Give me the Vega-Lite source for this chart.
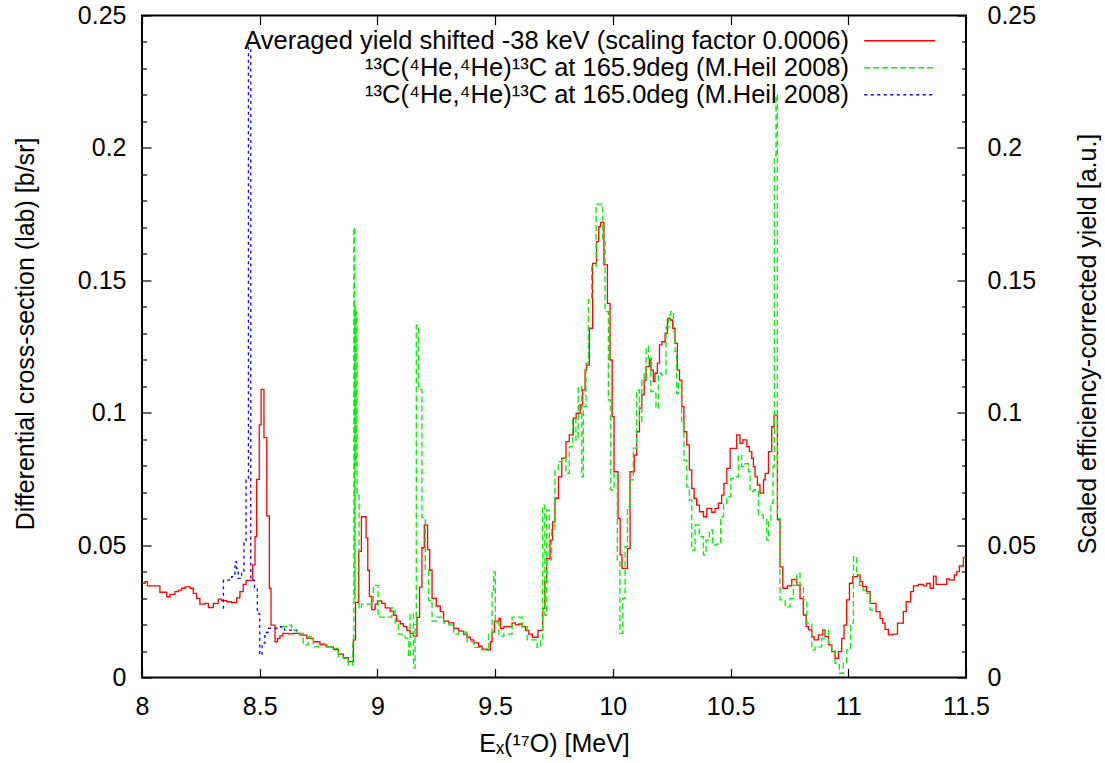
{
  "$schema": "https://vega.github.io/schema/vega-lite/v6.json",
  "width": 824,
  "height": 662,
  "autosize": {"type": "none"},
  "padding": {"left": 142, "top": 15.5, "right": 139, "bottom": 85.5},
  "background": "white",
  "config": {
    "font": "Liberation Sans",
    "view": {"stroke": "#000", "strokeWidth": 2},
    "axis": {"domain": false, "grid": false, "labelFont": "Liberation Sans", "labelFontSize": 25, "labelColor": "#000", "titleFont": "Liberation Sans", "titleFontSize": 25, "titleFontWeight": "normal", "titleColor": "#000", "tickColor": "#000", "tickWidth": 1.2, "labelOverlap": false, "labelFlush": false, "labelBound": false},
    "legend": {"labelFont": "Liberation Sans", "labelFontSize": 25.5, "labelColor": "#000", "labelLimit": 0}
  },
  "data": {"values": [
    {"s":"a","x":8.000,"y":0.0356},{"s":"a","x":8.013,"y":0.0362},{"s":"a","x":8.023,"y":0.0346},{"s":"a","x":8.076,"y":0.0322},
    {"s":"a","x":8.105,"y":0.0305},{"s":"a","x":8.119,"y":0.0314},{"s":"a","x":8.140,"y":0.0324},{"s":"a","x":8.154,"y":0.0330},
    {"s":"a","x":8.168,"y":0.0337},{"s":"a","x":8.183,"y":0.0342},{"s":"a","x":8.204,"y":0.0337},{"s":"a","x":8.218,"y":0.0318},
    {"s":"a","x":8.232,"y":0.0299},{"s":"a","x":8.246,"y":0.0277},{"s":"a","x":8.268,"y":0.0280},{"s":"a","x":8.282,"y":0.0264},
    {"s":"a","x":8.303,"y":0.0280},{"s":"a","x":8.324,"y":0.0296},{"s":"a","x":8.338,"y":0.0290},{"s":"a","x":8.360,"y":0.0286},
    {"s":"a","x":8.381,"y":0.0283},{"s":"a","x":8.402,"y":0.0301},{"s":"a","x":8.416,"y":0.0324},{"s":"a","x":8.430,"y":0.0352},
    {"s":"a","x":8.442,"y":0.0367},{"s":"a","x":8.470,"y":0.0425},{"s":"a","x":8.480,"y":0.0532},{"s":"a","x":8.487,"y":0.0748},
    {"s":"a","x":8.498,"y":0.0954},{"s":"a","x":8.506,"y":0.1088},{"s":"a","x":8.518,"y":0.0906},{"s":"a","x":8.530,"y":0.0610},
    {"s":"a","x":8.541,"y":0.0337},{"s":"a","x":8.548,"y":0.0198},{"s":"a","x":8.565,"y":0.0135},{"s":"a","x":8.576,"y":0.0148},
    {"s":"a","x":8.586,"y":0.0157},{"s":"a","x":8.598,"y":0.0167},{"s":"a","x":8.622,"y":0.0165},{"s":"a","x":8.643,"y":0.0167},
    {"s":"a","x":8.671,"y":0.0160},{"s":"a","x":8.700,"y":0.0148},{"s":"a","x":8.728,"y":0.0135},{"s":"a","x":8.756,"y":0.0123},
    {"s":"a","x":8.785,"y":0.0116},{"s":"a","x":8.813,"y":0.0105},{"s":"a","x":8.834,"y":0.0088},{"s":"a","x":8.855,"y":0.0075},
    {"s":"a","x":8.876,"y":0.0060},{"s":"a","x":8.898,"y":0.0142},{"s":"a","x":8.907,"y":0.0284},{"s":"a","x":8.920,"y":0.0476},
    {"s":"a","x":8.932,"y":0.0607},{"s":"a","x":8.952,"y":0.0526},{"s":"a","x":8.959,"y":0.0405},{"s":"a","x":8.966,"y":0.0306},
    {"s":"a","x":8.976,"y":0.0256},{"s":"a","x":8.990,"y":0.0277},{"s":"a","x":9.000,"y":0.0289},{"s":"a","x":9.018,"y":0.0280},
    {"s":"a","x":9.033,"y":0.0263},{"s":"a","x":9.054,"y":0.0250},{"s":"a","x":9.068,"y":0.0235},{"s":"a","x":9.082,"y":0.0213},
    {"s":"a","x":9.097,"y":0.0203},{"s":"a","x":9.111,"y":0.0192},{"s":"a","x":9.125,"y":0.0178},{"s":"a","x":9.139,"y":0.0167},
    {"s":"a","x":9.153,"y":0.0156},{"s":"a","x":9.168,"y":0.0227},{"s":"a","x":9.179,"y":0.0341},{"s":"a","x":9.189,"y":0.0490},
    {"s":"a","x":9.199,"y":0.0576},{"s":"a","x":9.213,"y":0.0483},{"s":"a","x":9.222,"y":0.0405},{"s":"a","x":9.232,"y":0.0299},
    {"s":"a","x":9.250,"y":0.0270},{"s":"a","x":9.267,"y":0.0249},{"s":"a","x":9.281,"y":0.0213},{"s":"a","x":9.303,"y":0.0206},
    {"s":"a","x":9.324,"y":0.0185},{"s":"a","x":9.345,"y":0.0175},{"s":"a","x":9.366,"y":0.0164},{"s":"a","x":9.380,"y":0.0152},
    {"s":"a","x":9.395,"y":0.0142},{"s":"a","x":9.409,"y":0.0131},{"s":"a","x":9.430,"y":0.0118},{"s":"a","x":9.445,"y":0.0107},
    {"s":"a","x":9.466,"y":0.0104},{"s":"a","x":9.480,"y":0.0135},{"s":"a","x":9.487,"y":0.0171},{"s":"a","x":9.497,"y":0.0213},
    {"s":"a","x":9.516,"y":0.0223},{"s":"a","x":9.523,"y":0.0185},{"s":"a","x":9.537,"y":0.0192},{"s":"a","x":9.572,"y":0.0206},
    {"s":"a","x":9.586,"y":0.0199},{"s":"a","x":9.600,"y":0.0202},{"s":"a","x":9.615,"y":0.0192},{"s":"a","x":9.629,"y":0.0178},
    {"s":"a","x":9.643,"y":0.0164},{"s":"a","x":9.658,"y":0.0152},{"s":"a","x":9.682,"y":0.0178},{"s":"a","x":9.702,"y":0.0261},
    {"s":"a","x":9.711,"y":0.0362},{"s":"a","x":9.719,"y":0.0450},{"s":"a","x":9.733,"y":0.0519},{"s":"a","x":9.744,"y":0.0588},
    {"s":"a","x":9.754,"y":0.0677},{"s":"a","x":9.769,"y":0.0758},{"s":"a","x":9.783,"y":0.0828},{"s":"a","x":9.801,"y":0.0891},
    {"s":"a","x":9.815,"y":0.0916},{"s":"a","x":9.832,"y":0.0979},{"s":"a","x":9.844,"y":0.0998},{"s":"a","x":9.861,"y":0.1029},
    {"s":"a","x":9.872,"y":0.1086},{"s":"a","x":9.882,"y":0.1161},{"s":"a","x":9.889,"y":0.1180},{"s":"a","x":9.900,"y":0.1319},
    {"s":"a","x":9.914,"y":0.1564},{"s":"a","x":9.931,"y":0.1646},{"s":"a","x":9.940,"y":0.1703},{"s":"a","x":9.948,"y":0.1719},
    {"s":"a","x":9.962,"y":0.1558},{"s":"a","x":9.977,"y":0.1413},{"s":"a","x":9.988,"y":0.1199},{"s":"a","x":9.997,"y":0.0985},
    {"s":"a","x":10.005,"y":0.0777},{"s":"a","x":10.022,"y":0.0601},{"s":"a","x":10.031,"y":0.0463},{"s":"a","x":10.039,"y":0.0412},
    {"s":"a","x":10.062,"y":0.0488},{"s":"a","x":10.073,"y":0.0777},{"s":"a","x":10.091,"y":0.0840},{"s":"a","x":10.101,"y":0.0928},
    {"s":"a","x":10.113,"y":0.1017},{"s":"a","x":10.123,"y":0.1067},{"s":"a","x":10.133,"y":0.1123},{"s":"a","x":10.141,"y":0.1174},
    {"s":"a","x":10.155,"y":0.1205},{"s":"a","x":10.162,"y":0.1161},{"s":"a","x":10.172,"y":0.1117},{"s":"a","x":10.179,"y":0.1149},
    {"s":"a","x":10.189,"y":0.1187},{"s":"a","x":10.198,"y":0.1256},{"s":"a","x":10.208,"y":0.1268},{"s":"a","x":10.222,"y":0.1300},
    {"s":"a","x":10.232,"y":0.1356},{"s":"a","x":10.243,"y":0.1350},{"s":"a","x":10.254,"y":0.1319},{"s":"a","x":10.264,"y":0.1262},
    {"s":"a","x":10.274,"y":0.1161},{"s":"a","x":10.283,"y":0.1123},{"s":"a","x":10.293,"y":0.1023},{"s":"a","x":10.302,"y":0.0928},
    {"s":"a","x":10.314,"y":0.0878},{"s":"a","x":10.325,"y":0.0784},{"s":"a","x":10.335,"y":0.0714},{"s":"a","x":10.345,"y":0.0676},
    {"s":"a","x":10.356,"y":0.0651},{"s":"a","x":10.368,"y":0.0626},{"s":"a","x":10.385,"y":0.0607},{"s":"a","x":10.399,"y":0.0639},
    {"s":"a","x":10.420,"y":0.0624},{"s":"a","x":10.434,"y":0.0639},{"s":"a","x":10.448,"y":0.0658},{"s":"a","x":10.462,"y":0.0689},
    {"s":"a","x":10.472,"y":0.0733},{"s":"a","x":10.484,"y":0.0790},{"s":"a","x":10.498,"y":0.0865},{"s":"a","x":10.526,"y":0.0916},
    {"s":"a","x":10.540,"y":0.0884},{"s":"a","x":10.552,"y":0.0897},{"s":"a","x":10.569,"y":0.0872},{"s":"a","x":10.580,"y":0.0853},
    {"s":"a","x":10.590,"y":0.0828},{"s":"a","x":10.597,"y":0.0796},{"s":"a","x":10.604,"y":0.0758},{"s":"a","x":10.614,"y":0.0727},
    {"s":"a","x":10.625,"y":0.0696},{"s":"a","x":10.640,"y":0.0746},{"s":"a","x":10.647,"y":0.0771},{"s":"a","x":10.661,"y":0.0853},
    {"s":"a","x":10.675,"y":0.0947},{"s":"a","x":10.685,"y":0.0991},{"s":"a","x":10.699,"y":0.0595},{"s":"a","x":10.710,"y":0.0418},
    {"s":"a","x":10.722,"y":0.0337},{"s":"a","x":10.741,"y":0.0346},{"s":"a","x":10.760,"y":0.0370},{"s":"a","x":10.781,"y":0.0349},
    {"s":"a","x":10.795,"y":0.0299},{"s":"a","x":10.809,"y":0.0236},{"s":"a","x":10.821,"y":0.0192},{"s":"a","x":10.831,"y":0.0180},
    {"s":"a","x":10.845,"y":0.0154},{"s":"a","x":10.855,"y":0.0142},{"s":"a","x":10.873,"y":0.0161},{"s":"a","x":10.892,"y":0.0180},
    {"s":"a","x":10.901,"y":0.0154},{"s":"a","x":10.916,"y":0.0123},{"s":"a","x":10.930,"y":0.0098},{"s":"a","x":10.944,"y":0.0072},
    {"s":"a","x":10.958,"y":0.0098},{"s":"a","x":10.972,"y":0.0148},{"s":"a","x":10.982,"y":0.0198},{"s":"a","x":10.993,"y":0.0293},
    {"s":"a","x":11.005,"y":0.0356},{"s":"a","x":11.019,"y":0.0381},{"s":"a","x":11.039,"y":0.0387},{"s":"a","x":11.050,"y":0.0362},
    {"s":"a","x":11.061,"y":0.0343},{"s":"a","x":11.078,"y":0.0324},{"s":"a","x":11.093,"y":0.0280},{"s":"a","x":11.118,"y":0.0249},
    {"s":"a","x":11.135,"y":0.0223},{"s":"a","x":11.146,"y":0.0205},{"s":"a","x":11.156,"y":0.0182},{"s":"a","x":11.170,"y":0.0161},
    {"s":"a","x":11.189,"y":0.0164},{"s":"a","x":11.209,"y":0.0205},{"s":"a","x":11.234,"y":0.0249},{"s":"a","x":11.246,"y":0.0286},
    {"s":"a","x":11.265,"y":0.0324},{"s":"a","x":11.277,"y":0.0346},{"s":"a","x":11.298,"y":0.0352},{"s":"a","x":11.319,"y":0.0346},
    {"s":"a","x":11.333,"y":0.0355},{"s":"a","x":11.348,"y":0.0337},{"s":"a","x":11.362,"y":0.0383},{"s":"a","x":11.373,"y":0.0352},
    {"s":"a","x":11.418,"y":0.0372},{"s":"a","x":11.430,"y":0.0368},{"s":"a","x":11.450,"y":0.0387},{"s":"a","x":11.461,"y":0.0400},
    {"s":"a","x":11.472,"y":0.0421},{"s":"a","x":11.489,"y":0.0454},{"s":"a","x":11.500,"y":0.0454},

    {"s":"b","x":8.593,"y":0.0192},{"s":"b","x":8.615,"y":0.0198},{"s":"b","x":8.636,"y":0.0179},{"s":"b","x":8.657,"y":0.0167},
    {"s":"b","x":8.685,"y":0.0123},{"s":"b","x":8.706,"y":0.0154},{"s":"b","x":8.728,"y":0.0116},{"s":"b","x":8.749,"y":0.0129},
    {"s":"b","x":8.777,"y":0.0116},{"s":"b","x":8.806,"y":0.0110},{"s":"b","x":8.834,"y":0.0079},{"s":"b","x":8.855,"y":0.0072},
    {"s":"b","x":8.876,"y":0.0047},{"s":"b","x":8.895,"y":0.0129},{"s":"b","x":8.900,"y":0.1700},{"s":"b","x":8.903,"y":0.0300},
    {"s":"b","x":8.905,"y":0.1400},{"s":"b","x":8.908,"y":0.0800},{"s":"b","x":8.910,"y":0.1380},{"s":"b","x":8.913,"y":0.0690},
    {"s":"b","x":8.922,"y":0.0260},{"s":"b","x":8.932,"y":0.0277},{"s":"b","x":8.983,"y":0.0348},{"s":"b","x":9.003,"y":0.0228},
    {"s":"b","x":9.061,"y":0.0263},{"s":"b","x":9.075,"y":0.0206},{"s":"b","x":9.089,"y":0.0164},{"s":"b","x":9.118,"y":0.0149},
    {"s":"b","x":9.132,"y":0.0078},{"s":"b","x":9.139,"y":0.0240},{"s":"b","x":9.153,"y":0.0036},{"s":"b","x":9.160,"y":0.0200},
    {"s":"b","x":9.165,"y":0.1330},{"s":"b","x":9.175,"y":0.1088},{"s":"b","x":9.189,"y":0.0604},{"s":"b","x":9.203,"y":0.0405},
    {"s":"b","x":9.217,"y":0.0291},{"s":"b","x":9.232,"y":0.0213},{"s":"b","x":9.253,"y":0.0228},{"s":"b","x":9.281,"y":0.0206},
    {"s":"b","x":9.303,"y":0.0199},{"s":"b","x":9.324,"y":0.0164},{"s":"b","x":9.345,"y":0.0171},{"s":"b","x":9.381,"y":0.0135},
    {"s":"b","x":9.409,"y":0.0114},{"s":"b","x":9.437,"y":0.0104},{"s":"b","x":9.473,"y":0.0164},{"s":"b","x":9.487,"y":0.0320},
    {"s":"b","x":9.494,"y":0.0398},{"s":"b","x":9.501,"y":0.0206},{"s":"b","x":9.516,"y":0.0156},{"s":"b","x":9.537,"y":0.0164},
    {"s":"b","x":9.572,"y":0.0228},{"s":"b","x":9.615,"y":0.0192},{"s":"b","x":9.636,"y":0.0142},{"s":"b","x":9.678,"y":0.0114},
    {"s":"b","x":9.693,"y":0.0142},{"s":"b","x":9.702,"y":0.0651},{"s":"b","x":9.711,"y":0.0236},{"s":"b","x":9.719,"y":0.0632},
    {"s":"b","x":9.730,"y":0.0444},{"s":"b","x":9.740,"y":0.0557},{"s":"b","x":9.754,"y":0.0784},{"s":"b","x":9.768,"y":0.0815},
    {"s":"b","x":9.783,"y":0.0828},{"s":"b","x":9.801,"y":0.0771},{"s":"b","x":9.815,"y":0.0872},{"s":"b","x":9.829,"y":0.0979},
    {"s":"b","x":9.843,"y":0.0897},{"s":"b","x":9.853,"y":0.1098},{"s":"b","x":9.868,"y":0.0758},{"s":"b","x":9.875,"y":0.1023},
    {"s":"b","x":9.886,"y":0.1186},{"s":"b","x":9.896,"y":0.1426},{"s":"b","x":9.910,"y":0.1551},{"s":"b","x":9.929,"y":0.1788},
    {"s":"b","x":9.957,"y":0.1646},{"s":"b","x":9.967,"y":0.1382},{"s":"b","x":9.981,"y":0.1048},{"s":"b","x":9.991,"y":0.0708},
    {"s":"b","x":10.005,"y":0.0771},{"s":"b","x":10.019,"y":0.0444},{"s":"b","x":10.030,"y":0.0167},{"s":"b","x":10.042,"y":0.0299},
    {"s":"b","x":10.052,"y":0.0494},{"s":"b","x":10.062,"y":0.0645},{"s":"b","x":10.073,"y":0.0746},{"s":"b","x":10.087,"y":0.0866},
    {"s":"b","x":10.101,"y":0.1086},{"s":"b","x":10.113,"y":0.0966},{"s":"b","x":10.123,"y":0.1123},{"s":"b","x":10.133,"y":0.1155},
    {"s":"b","x":10.141,"y":0.1249},{"s":"b","x":10.151,"y":0.1205},{"s":"b","x":10.161,"y":0.1080},{"s":"b","x":10.172,"y":0.1073},
    {"s":"b","x":10.183,"y":0.1017},{"s":"b","x":10.193,"y":0.1149},{"s":"b","x":10.207,"y":0.1142},{"s":"b","x":10.226,"y":0.1325},
    {"s":"b","x":10.236,"y":0.1369},{"s":"b","x":10.246,"y":0.1382},{"s":"b","x":10.257,"y":0.1306},{"s":"b","x":10.264,"y":0.1231},
    {"s":"b","x":10.271,"y":0.1073},{"s":"b","x":10.278,"y":0.1117},{"s":"b","x":10.292,"y":0.0966},{"s":"b","x":10.302,"y":0.0821},
    {"s":"b","x":10.314,"y":0.0720},{"s":"b","x":10.325,"y":0.0670},{"s":"b","x":10.335,"y":0.0481},{"s":"b","x":10.349,"y":0.0576},
    {"s":"b","x":10.367,"y":0.0532},{"s":"b","x":10.385,"y":0.0463},{"s":"b","x":10.396,"y":0.0519},{"s":"b","x":10.410,"y":0.0557},
    {"s":"b","x":10.424,"y":0.0500},{"s":"b","x":10.438,"y":0.0504},{"s":"b","x":10.458,"y":0.0607},{"s":"b","x":10.470,"y":0.0658},
    {"s":"b","x":10.484,"y":0.0683},{"s":"b","x":10.501,"y":0.0752},{"s":"b","x":10.512,"y":0.0758},{"s":"b","x":10.533,"y":0.0840},
    {"s":"b","x":10.547,"y":0.0796},{"s":"b","x":10.562,"y":0.0808},{"s":"b","x":10.576,"y":0.0777},{"s":"b","x":10.583,"y":0.0702},
    {"s":"b","x":10.597,"y":0.0708},{"s":"b","x":10.618,"y":0.0614},{"s":"b","x":10.639,"y":0.0601},{"s":"b","x":10.654,"y":0.0519},
    {"s":"b","x":10.661,"y":0.0595},{"s":"b","x":10.671,"y":0.0658},{"s":"b","x":10.680,"y":0.0796},{"s":"b","x":10.686,"y":0.1970},
    {"s":"b","x":10.693,"y":0.2200},{"s":"b","x":10.699,"y":0.0601},{"s":"b","x":10.710,"y":0.0293},{"s":"b","x":10.732,"y":0.0267},
    {"s":"b","x":10.753,"y":0.0299},{"s":"b","x":10.767,"y":0.0349},{"s":"b","x":10.781,"y":0.0393},{"s":"b","x":10.795,"y":0.0349},
    {"s":"b","x":10.810,"y":0.0293},{"s":"b","x":10.824,"y":0.0205},{"s":"b","x":10.845,"y":0.0104},{"s":"b","x":10.859,"y":0.0116},
    {"s":"b","x":10.887,"y":0.0148},{"s":"b","x":10.901,"y":0.0180},{"s":"b","x":10.916,"y":0.0129},{"s":"b","x":10.930,"y":0.0104},
    {"s":"b","x":10.944,"y":0.0054},{"s":"b","x":10.962,"y":0.0016},{"s":"b","x":10.979,"y":0.0054},{"s":"b","x":10.993,"y":0.0104},
    {"s":"b","x":11.010,"y":0.0205},{"s":"b","x":11.022,"y":0.0456},{"s":"b","x":11.036,"y":0.0387},{"s":"b","x":11.047,"y":0.0349},
    {"s":"b","x":11.062,"y":0.0330},{"s":"b","x":11.076,"y":0.0318},{"s":"b","x":11.093,"y":0.0255},{"s":"b","x":11.104,"y":0.0255},

    {"s":"c","x":8.343,"y":0.0262},{"s":"c","x":8.346,"y":0.0368},{"s":"c","x":8.360,"y":0.0368},{"s":"c","x":8.381,"y":0.0381},
    {"s":"c","x":8.395,"y":0.0437},{"s":"c","x":8.402,"y":0.0412},{"s":"c","x":8.409,"y":0.0374},{"s":"c","x":8.423,"y":0.0396},
    {"s":"c","x":8.433,"y":0.0507},{"s":"c","x":8.442,"y":0.0746},{"s":"c","x":8.452,"y":0.2380},{"s":"c","x":8.462,"y":0.0368},
    {"s":"c","x":8.478,"y":0.0340},{"s":"c","x":8.490,"y":0.0240},{"s":"c","x":8.500,"y":0.0085},{"s":"c","x":8.510,"y":0.0130},
    {"s":"c","x":8.522,"y":0.0170},{"s":"c","x":8.535,"y":0.0186},{"s":"c","x":8.590,"y":0.0192},{"s":"c","x":8.605,"y":0.0179},
    {"s":"c","x":8.650,"y":0.0179},{"s":"c","x":8.660,"y":0.0179}
  ]},
  "layer": [
    {
      "mark": {"type": "line", "interpolate": "step-after", "strokeWidth": 1.3, "clip": true},
      "encoding": {
        "x": {"field": "x", "type": "quantitative",
          "scale": {"domain": [8, 11.5], "nice": false, "zero": false},
          "axis": {"orient": "bottom", "values": [8, 8.5, 9, 9.5, 10, 10.5, 11, 11.5], "format": "~g", "tickSize": -9, "labelPadding": 26,
            "title": "Eₓ(¹⁷O) [MeV]", "titleX": 412, "titleY": 74, "titleBaseline": "alphabetic", "titleAlign": "center"}},
        "y": {"field": "y", "type": "quantitative",
          "scale": {"domain": [0, 0.25], "nice": false, "zero": false},
          "axis": {"orient": "left",
            "values": [0,0.01,0.02,0.03,0.04,0.05,0.06,0.07,0.08,0.09,0.1,0.11,0.12,0.13,0.14,0.15,0.16,0.17,0.18,0.19,0.2,0.21,0.22,0.23,0.24,0.25],
            "tickSize": {"condition": {"test": "abs(datum.value*20-round(datum.value*20))<0.001", "value": -9}, "value": -4.5},
            "labelExpr": "abs(datum.value*20-round(datum.value*20))<0.001 ? format(datum.value, '~g') : ''",
            "labelPadding": 25,
            "title": "Differential cross-section (lab) [b/sr]", "titleX": -117, "titleY": 318, "titleAngle": 270, "titleBaseline": "middle", "titleAlign": "center"}},
        "color": {"field": "s", "type": "nominal",
          "scale": {"domain": ["a", "b", "c"], "range": ["#ff0000", "#00ee00", "#0000ff"]},
          "legend": {"title": null, "orient": "none", "legendX": 745, "legendY": 12.5, "padding": 0, "symbolType": "M-5,0H5", "symbolSize": 201.64, "symbolStrokeWidth": 1.3,
            "labelAlign": "right", "labelOffset": -63.5, "rowPadding": 0, "labelLimit": 0,
            "labelExpr": "datum.label == 'a' ? 'Averaged yield shifted -38 keV (scaling factor 0.0006)' : datum.label == 'b' ? '¹³C(⁴He,⁴He)¹³C at 165.9deg (M.Heil 2008)' : '¹³C(⁴He,⁴He)¹³C at 165.0deg (M.Heil 2008)'"}},
        "strokeDash": {"field": "s", "type": "nominal",
          "scale": {"domain": ["a", "b", "c"], "range": [[1, 0], [6, 3], [3, 3.5]]},
          "legend": {"title": null, "orient": "none", "legendX": 745, "legendY": 12.5, "padding": 0, "symbolType": "M-5,0H5", "symbolSize": 201.64, "symbolStrokeWidth": 1.3,
            "labelAlign": "right", "labelOffset": -63.5, "rowPadding": 0, "labelLimit": 0,
            "labelExpr": "datum.label == 'a' ? 'Averaged yield shifted -38 keV (scaling factor 0.0006)' : datum.label == 'b' ? '¹³C(⁴He,⁴He)¹³C at 165.9deg (M.Heil 2008)' : '¹³C(⁴He,⁴He)¹³C at 165.0deg (M.Heil 2008)'"}}
      }
    },
    {
      "mark": {"type": "point", "opacity": 0},
      "encoding": {
        "x": {"field": "x", "type": "quantitative",
          "scale": {"domain": [8, 11.5], "nice": false, "zero": false},
          "axis": {"orient": "top", "values": [8, 8.5, 9, 9.5, 10, 10.5, 11, 11.5], "tickSize": -9, "labels": false, "title": null}},
        "y": {"field": "y", "type": "quantitative",
          "scale": {"domain": [0, 0.25], "nice": false, "zero": false},
          "axis": {"orient": "right",
            "values": [0,0.01,0.02,0.03,0.04,0.05,0.06,0.07,0.08,0.09,0.1,0.11,0.12,0.13,0.14,0.15,0.16,0.17,0.18,0.19,0.2,0.21,0.22,0.23,0.24,0.25],
            "tickSize": {"condition": {"test": "abs(datum.value*20-round(datum.value*20))<0.001", "value": -9}, "value": -4.5},
            "labelExpr": "abs(datum.value*20-round(datum.value*20))<0.001 ? format(datum.value, '~g') : ''",
            "labelPadding": 30,
            "title": "Scaled efficiency-corrected yield [a.u.]", "titleX": 121, "titleY": 328, "titleAngle": 270, "titleBaseline": "middle", "titleAlign": "center"}}
      }
    }
  ],
  "resolve": {"scale": {"x": "independent", "y": "independent"}}
}
